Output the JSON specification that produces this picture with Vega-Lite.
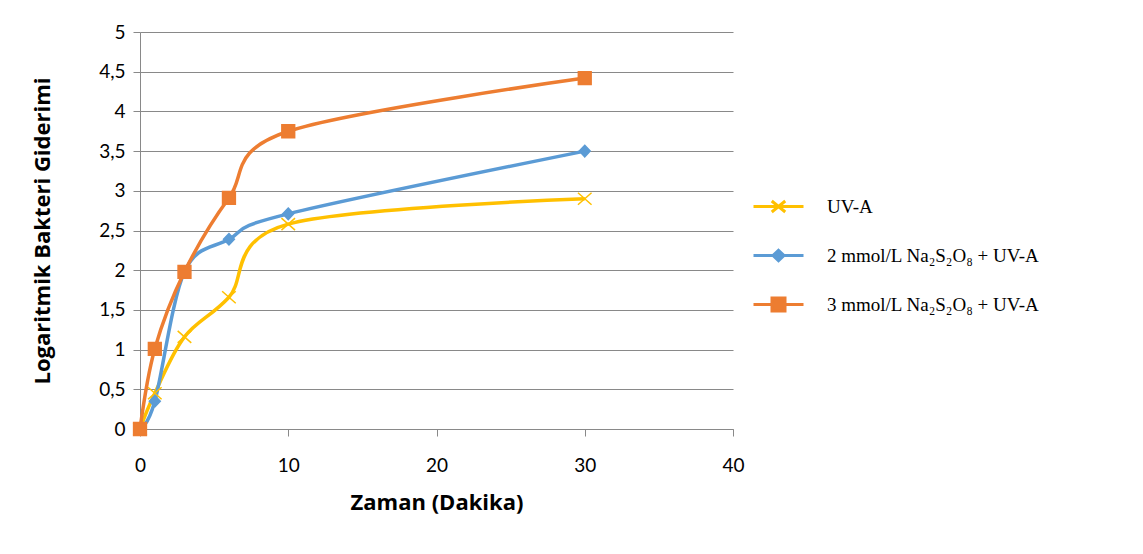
{
  "$schema": "https://vega.github.io/schema/vega-lite/v6.json",
  "width": 593,
  "height": 397,
  "autosize": "none",
  "padding": {"left": 140, "top": 32, "right": 410, "bottom": 125},
  "background": "white",
  "config": {"view": {"stroke": null}},
  "data": {"values": [
    {"t": 0, "v": 0, "s": "UV-A"},
    {"t": 1, "v": 0.45, "s": "UV-A"},
    {"t": 3, "v": 1.16, "s": "UV-A"},
    {"t": 6, "v": 1.66, "s": "UV-A"},
    {"t": 10, "v": 2.58, "s": "UV-A"},
    {"t": 30, "v": 2.9, "s": "UV-A"},
    {"t": 0, "v": 0, "s": "2 mmol/L Na₂S₂O₈ + UV-A"},
    {"t": 1, "v": 0.35, "s": "2 mmol/L Na₂S₂O₈ + UV-A"},
    {"t": 3, "v": 1.98, "s": "2 mmol/L Na₂S₂O₈ + UV-A"},
    {"t": 6, "v": 2.39, "s": "2 mmol/L Na₂S₂O₈ + UV-A"},
    {"t": 10, "v": 2.71, "s": "2 mmol/L Na₂S₂O₈ + UV-A"},
    {"t": 30, "v": 3.5, "s": "2 mmol/L Na₂S₂O₈ + UV-A"},
    {"t": 0, "v": 0, "s": "3 mmol/L Na₂S₂O₈ + UV-A"},
    {"t": 1, "v": 1.01, "s": "3 mmol/L Na₂S₂O₈ + UV-A"},
    {"t": 3, "v": 1.98, "s": "3 mmol/L Na₂S₂O₈ + UV-A"},
    {"t": 6, "v": 2.91, "s": "3 mmol/L Na₂S₂O₈ + UV-A"},
    {"t": 10, "v": 3.75, "s": "3 mmol/L Na₂S₂O₈ + UV-A"},
    {"t": 30, "v": 4.42, "s": "3 mmol/L Na₂S₂O₈ + UV-A"}
  ]},
  "encoding": {
    "x": {"field": "t", "type": "quantitative",
      "scale": {"domain": [0, 40], "nice": false},
      "axis": {"values": [0, 10, 20, 30, 40], "grid": false, "title": "Zaman (Dakika)", "labelFlush": false,
        "titleFont": "Open Sans", "titleFontSize": 22, "titleFontWeight": "bold", "titleColor": "black", "titlePadding": 17,
        "labelFont": "Lato", "labelFontSize": 19, "labelColor": "black", "labelPadding": 20,
        "domainColor": "#898989", "tickColor": "#898989", "tickSize": 7, "domainWidth": 1}},
    "y": {"field": "v", "type": "quantitative",
      "scale": {"domain": [0, 5], "nice": false},
      "axis": {"values": [0, 0.5, 1, 1.5, 2, 2.5, 3, 3.5, 4, 4.5, 5], "labelFlush": false,
        "labelExpr": "replace(format(datum.value, ''), '.', ',')",
        "grid": true, "gridColor": "#898989", "gridWidth": 1,
        "title": "Logaritmik Bakteri Giderimi",
        "titleFont": "Open Sans", "titleFontSize": 22, "titleFontWeight": "bold", "titleColor": "black", "titlePadding": 44,
        "labelFont": "Lato", "labelFontSize": 19, "labelColor": "black", "labelPadding": 8,
        "domainColor": "#898989", "tickColor": "#898989", "tickSize": 7}}
  },
  "layer": [
    {
      "mark": {"type": "line", "interpolate": "cardinal", "strokeWidth": 3.5},
      "encoding": {
        "color": {"field": "s", "type": "nominal",
          "scale": {"domain": ["UV-A", "2 mmol/L Na₂S₂O₈ + UV-A", "3 mmol/L Na₂S₂O₈ + UV-A"],
                    "range": ["#FFC000", "#5B9BD5", "#ED7D31"]},
          "legend": {"orient": "none", "legendX": 612, "legendY": 148, "title": null,
            "padding": 0, "symbolSize": 2500, "rowPadding": 11,
            "labelFont": "Liberation Serif", "labelFontSize": 19, "labelColor": "black", "labelOffset": 22, "labelLimit": 400,
            "encode": {"symbols": {"update": {
              "shape": {"signal": "datum.value === 'UV-A' ? 'M-1,0H1M-0.27,-0.22L0.27,0.22M-0.27,0.22L0.27,-0.22' : (indexof(datum.value, '2 mmol') === 0 ? 'M-1,0H1M0,-0.21L0.22,0L0,0.21L-0.22,0Z' : 'M-1,0H1M-0.26,-0.26H0.26V0.26H-0.26Z')"},
              "fill": {"scale": "color", "field": "value"},
              "stroke": {"scale": "color", "field": "value"},
              "strokeWidth": {"value": 3},
              "opacity": {"value": 1}
            }}}}
        }
      }
    },
    {
      "mark": {"type": "point", "filled": true, "opacity": 1, "size": 256, "strokeWidth": 1.5},
      "encoding": {
        "color": {"field": "s", "type": "nominal", "legend": null},
        "stroke": {
          "condition": [
            {"test": "datum.s === 'UV-A'", "value": "#FFC000"},
            {"test": "indexof(datum.s, '2 mmol') === 0", "value": "#5B9BD5"}
          ],
          "value": "#ED7D31"},
        "shape": {
          "condition": [
            {"test": "datum.s === 'UV-A'", "value": "M-0.85,-0.75L0.85,0.75M-0.85,0.75L0.85,-0.75"},
            {"test": "indexof(datum.s, '2 mmol') === 0", "value": "M0,-0.72L0.68,0L0,0.72L-0.68,0Z"}
          ],
          "value": "M-0.8,-0.8H0.8V0.8H-0.8Z"}
      }
    }
  ]
}
